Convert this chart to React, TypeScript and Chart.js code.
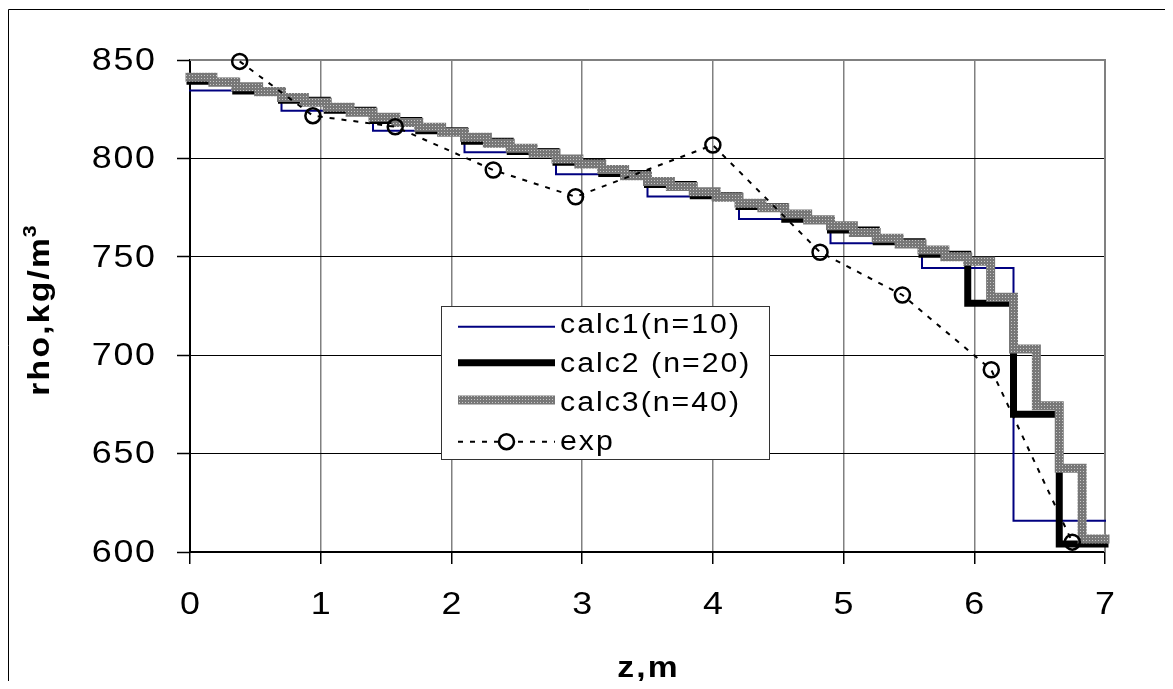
import { useEffect, useRef } from 'react';
import { Chart, registerables } from 'chart.js';

Chart.register(...registerables);

// Column length, m
const Z_MAX = 7;

// Calculated density per cell (cells of equal height along z)
const calc1Rho = [834.5, 824.2, 814.1, 803.1, 792.0, 780.7, 769.2, 756.9, 744.3, 615.9];
const calc2Rho = [
  839.2, 834.3, 829.5, 824.5, 819.3, 814.0, 808.7, 803.5, 798.0, 792.3,
  786.8, 781.0, 775.5, 769.1, 763.6, 757.6, 751.3, 726.4, 670.0, 604.1,
];
const calc3Rho = [
  841.2, 838.7, 836.4, 833.9, 831.0, 828.5, 826.0, 823.4, 820.9, 818.3,
  815.8, 813.3, 810.7, 807.7, 805.1, 802.6, 799.7, 797.2, 794.4, 791.2,
  788.3, 785.7, 783.1, 780.2, 777.2, 774.9, 771.7, 768.7, 765.8, 762.4,
  759.4, 756.5, 753.5, 750.0, 747.7, 729.4, 703.1, 674.3, 642.5, 606.6,
];

// Measured density
const expZ = [0.38, 0.94, 1.57, 2.32, 2.95, 4.0, 4.82, 5.45, 6.13, 6.75];
const expRho = [849.3, 821.7, 816.1, 794.1, 780.5, 806.8, 752.3, 730.6, 692.6, 605.0];

// Axes
const X_MIN = 0;
const Y_MIN = 600;
const Y_MAX = 850;
const X_STEP = 1;
const Y_STEP = 50;

const seriesLabels = ['calc1(n=10)', 'calc2 (n=20)', 'calc3(n=40)', 'exp'];
const xTitle = 'z,m';
const yTitle = 'rho,kg/m';
const yTitleSup = '3';

const FONT = '"Liberation Sans", Arial, Helvetica, sans-serif';
const W = 1164;
const H = 673;
const TEXT_SX = 1.12; // glyphs are drawn slightly widened

// Each cell value holds from its lower edge up to the next edge
function stepPoints(values: number[]) {
  const w = Z_MAX / values.length;
  const pts = values.map((v, i) => ({ x: i * w, y: v }));
  pts.push({ x: Z_MAX, y: values[values.length - 1] });
  return pts;
}

function makeGrayPattern(): CanvasPattern | string {
  const tile = document.createElement('canvas');
  tile.width = 3;
  tile.height = 3;
  const t = tile.getContext('2d');
  if (!t) return '#888';
  t.fillStyle = '#777777';
  t.fillRect(0, 0, 3, 3);
  t.fillStyle = '#c8c8c8';
  t.fillRect(1, 1, 1, 1);
  const ctx = document.createElement('canvas').getContext('2d');
  const p = ctx ? ctx.createPattern(tile, 'repeat') : null;
  return p || '#888';
}

function measure(ctx: CanvasRenderingContext2D, text: string, font: string, ls: number) {
  ctx.save();
  ctx.font = font;
  (ctx as any).letterSpacing = ls + 'px';
  const w = (ctx.measureText(text).width - ls) * TEXT_SX;
  ctx.restore();
  return w;
}

function spacedText(
  ctx: CanvasRenderingContext2D,
  text: string,
  x: number,
  y: number,
  font: string,
  ls: number,
  align: 'left' | 'right' | 'center',
  baseline: CanvasTextBaseline = 'alphabetic'
) {
  const w = measure(ctx, text, font, ls);
  const x0 = align === 'left' ? x : align === 'right' ? x - w : x - w / 2;
  ctx.save();
  ctx.font = font;
  (ctx as any).letterSpacing = ls + 'px';
  ctx.textAlign = 'left';
  ctx.textBaseline = baseline;
  ctx.fillStyle = '#000';
  ctx.translate(x0, y);
  ctx.scale(TEXT_SX, 1);
  ctx.fillText(text, 0, 0);
  ctx.restore();
  return w;
}

export default function App() {
  const ref = useRef<HTMLCanvasElement>(null);

  useEffect(() => {
    const canvas = ref.current;
    if (!canvas) return;
    const gray = makeGrayPattern();

    const decorations = {
      id: 'decorations',
      beforeDatasetsDraw(chart: any) {
        const { ctx, chartArea: a } = chart;
        ctx.save();
        ctx.strokeStyle = '#808080';
        ctx.lineWidth = 2;
        ctx.beginPath();
        ctx.moveTo(a.left, a.top);
        ctx.lineTo(a.right, a.top);
        ctx.lineTo(a.right, a.bottom);
        ctx.stroke();
        ctx.restore();
      },
      afterDraw(chart: any) {
        const { ctx, chartArea: a } = chart;
        const xs = chart.scales.x;
        const ys = chart.scales.y;

        // outer frame
        ctx.save();
        ctx.strokeStyle = '#000';
        ctx.lineWidth = 1;
        ctx.beginPath();
        ctx.moveTo(0.5, H + 2);
        ctx.lineTo(0.5, 1.5);
        ctx.lineTo(W - 1.5, 1.5);
        ctx.lineTo(W - 1.5, H + 2);
        ctx.stroke();
        ctx.restore();

        // tick labels
        const tickFont = `32px ${FONT}`;
        ys.ticks.forEach((t: any) => {
          spacedText(ctx, String(t.value), 147, ys.getPixelForValue(t.value) + 1, tickFont, 1.5, 'right', 'middle');
        });
        xs.ticks.forEach((t: any) => {
          spacedText(ctx, String(t.value), xs.getPixelForValue(t.value), 606, tickFont, 1.5, 'center');
        });

        // axis titles
        const titleFont = `bold 30px ${FONT}`;
        const supFont = `bold 19px ${FONT}`;
        spacedText(ctx, xTitle, (a.left + a.right) / 2, 669, titleFont, 2, 'center');

        const wMain = measure(ctx, yTitle, titleFont, 2);
        const wSup = measure(ctx, yTitleSup, supFont, 0);
        const start = -(wMain + wSup) / 2;
        ctx.save();
        ctx.translate(41, 303);
        ctx.rotate(-Math.PI / 2);
        spacedText(ctx, yTitle, start, 0, titleFont, 2, 'left');
        spacedText(ctx, yTitleSup, start + wMain + 1, -13, supFont, 0, 'left');
        ctx.restore();

        // legend
        const bx = 433, by = 298, bw = 328, bh = 153;
        ctx.save();
        ctx.fillStyle = '#fff';
        ctx.fillRect(bx, by, bw, bh);
        ctx.strokeStyle = '#333';
        ctx.lineWidth = 1;
        ctx.strokeRect(bx + 0.5, by + 0.5, bw, bh);
        ctx.restore();

        const sx0 = 450, sx1 = 547;
        const sampleY = [318.7, 354.7, 392, 433.7];
        const textY = [325, 364, 403, 442];
        const ds = chart.data.datasets;
        for (let i = 0; i < 4; i++) {
          const d = ds[i];
          ctx.save();
          ctx.strokeStyle = d.borderColor;
          ctx.lineWidth = d.borderWidth;
          ctx.lineCap = 'butt';
          if (d.borderDash) ctx.setLineDash(d.borderDash);
          ctx.beginPath();
          ctx.moveTo(sx0, sampleY[i]);
          ctx.lineTo(sx1, sampleY[i]);
          ctx.stroke();
          if (d.pointRadius > 0) {
            ctx.setLineDash([]);
            ctx.fillStyle = '#fff';
            ctx.lineWidth = d.pointBorderWidth;
            ctx.strokeStyle = d.pointBorderColor;
            ctx.beginPath();
            ctx.arc((sx0 + sx1) / 2, sampleY[i], d.pointRadius, 0, Math.PI * 2);
            ctx.fill();
            ctx.stroke();
          }
          ctx.restore();
          spacedText(ctx, d.label, 552, textY[i], `27px ${FONT}`, 1.8, 'left');
        }
      },
    };

    const chart = new Chart(canvas, {
      type: 'line',
      data: {
        datasets: [
          {
            label: seriesLabels[0],
            data: stepPoints(calc1Rho),
            stepped: true,
            borderColor: '#000080',
            borderWidth: 2,
            pointRadius: 0,
            borderJoinStyle: 'miter',
            borderCapStyle: 'square',
            clip: false,
            order: 3,
          },
          {
            label: seriesLabels[1],
            data: stepPoints(calc2Rho),
            stepped: true,
            borderColor: '#000000',
            borderWidth: 7,
            pointRadius: 0,
            borderJoinStyle: 'miter',
            borderCapStyle: 'square',
            clip: false,
            order: 2,
          },
          {
            label: seriesLabels[2],
            data: stepPoints(calc3Rho),
            stepped: true,
            borderColor: gray as any,
            borderWidth: 9,
            pointRadius: 0,
            borderJoinStyle: 'miter',
            borderCapStyle: 'square',
            clip: false,
            order: 1,
          },
          {
            label: seriesLabels[3],
            data: expZ.map((z, i) => ({ x: z, y: expRho[i] })),
            borderColor: '#000000',
            borderWidth: 2,
            borderDash: [5, 7],
            pointRadius: 7.5,
            pointBorderWidth: 2.5,
            pointBorderColor: '#000000',
            pointBackgroundColor: 'rgba(0,0,0,0)',
            pointStyle: 'circle',
            tension: 0,
            clip: false,
            order: 0,
          },
        ] as any,
      },
      options: {
        responsive: false,
        animation: false,
        devicePixelRatio: 1,
        events: [],
        layout: { padding: { top: 52, right: W - 1097, bottom: 0, left: 0 } },
        plugins: { legend: { display: false }, tooltip: { enabled: false } },
        scales: {
          x: {
            type: 'linear',
            min: X_MIN,
            max: Z_MAX,
            ticks: { display: false, stepSize: X_STEP },
            grid: { color: '#808080', lineWidth: 1.5, tickColor: '#000', tickLength: 12, tickWidth: 1.5 },
            border: { color: '#000', width: 2 },
            afterFit: (s: any) => { s.height = H - 544; },
          },
          y: {
            type: 'linear',
            min: Y_MIN,
            max: Y_MAX,
            ticks: { display: false, stepSize: Y_STEP },
            grid: { color: '#000', lineWidth: 1, tickColor: '#000', tickLength: 13, tickWidth: 1.5 },
            border: { color: '#000', width: 2 },
            afterFit: (s: any) => { s.width = 182; },
          },
        },
      } as any,
      plugins: [decorations],
    });

    return () => chart.destroy();
  }, []);

  return <canvas ref={ref} width={W} height={H} style={{ display: 'block', width: W, height: H }} />;
}
